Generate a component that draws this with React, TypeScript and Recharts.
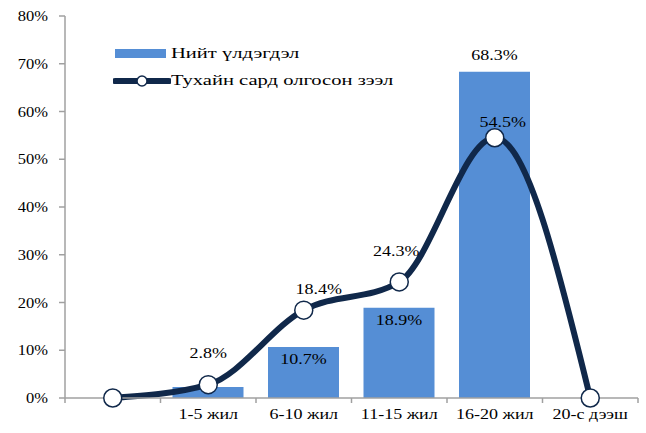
import React from 'react';
import {ComposedChart, Bar, Line, XAxis, YAxis, LabelList} from 'recharts';

const categories = ['', '1-5 жил', '6-10 жил', '11-15 жил', '16-20 жил', '20-с дээш'];
const balanceValues = [0, 2.3, 10.7, 18.9, 68.3, 0];
const balanceLabels = ['', '', '10.7%', '18.9%', '68.3%', ''];
const loanValues = [0, 2.8, 18.4, 24.3, 54.5, 0];
const loanLabels = ['', '2.8%', '18.4%', '24.3%', '54.5%', ''];
const yTicks = [0, 10, 20, 30, 40, 50, 60, 70, 80];

const BAR_COLOR = '#558ed5';
const LINE_COLOR = '#10284a';
const AXIS_COLOR = '#a0a0a0';
const FONT = '"Liberation Serif", "Times New Roman", serif';
// the source image is wider than tall, so its text looks stretched sideways
const STRETCH = 1.2;
const AXIS_STRETCH = 1.1;
const LEGEND_STRETCH = 1.37;

// label nudges so the text sits where the original put it
const lineLabelNudge: { [key: string]: { dx: number; dy: number } } = {
    '2.8%': {dx: 0, dy: -27},
    '18.4%': {dx: 15, dy: -16},
    '24.3%': {dx: -3, dy: -26},
    '54.5%': {dx: 8, dy: -11},
};

const data = categories.map((name, i) => ({
    name,
    balance: balanceValues[i],
    balanceLabel: balanceLabels[i],
    loan: loanValues[i],
    loanLabel: loanLabels[i],
}));

const WideText = ({x, y, anchor = 'middle', stretch = STRETCH, children}: any) => (
    <text transform={`translate(${x},${y}) scale(${stretch},1)`} textAnchor={anchor}
          fontSize={15} fontFamily={FONT} fill="#000">
        {children}
    </text>
);

const CategoryTick = (props: any) => {
    const {x, y, payload, index, visibleTicksCount} = props;
    const half = payload.offset || 47.75;
    return (
        <g>
            <line x1={x - half} y1={y} x2={x - half} y2={y + 5} stroke={AXIS_COLOR} strokeWidth={1.5}/>
            {index === visibleTicksCount - 1 && (
                <line x1={x + half} y1={y} x2={x + half} y2={y + 5} stroke={AXIS_COLOR} strokeWidth={1.5}/>
            )}
            <WideText x={x} y={y + 21}>{payload.value}</WideText>
        </g>
    );
};

const PercentTick = (props: any) => {
    const {x, y, payload} = props;
    return <WideText x={x} y={y + 5} anchor="end" stretch={AXIS_STRETCH}>{`${payload.value}%`}</WideText>;
};

const LineLabel = (props: any) => {
    const {x, y, value} = props;
    if (!value) return null;
    const n = lineLabelNudge[value] || {dx: 0, dy: -12};
    return <WideText x={x + n.dx} y={y + n.dy}>{value}</WideText>;
};

const BarLabel = (props: any) => {
    const {x, y, width, value} = props;
    if (!value) return null;
    const inside = balanceValues[balanceLabels.indexOf(value)] < 30;
    return <WideText x={x + width / 2} y={inside ? y + 17 : y - 12}>{value}</WideText>;
};

const legendText = {
    display: 'inline-block',
    whiteSpace: 'nowrap' as const,
    transform: `scaleX(${LEGEND_STRETCH})`,
    transformOrigin: 'left',
};

const LegendBox = () => (
    <div style={{
        position: 'absolute', left: 113, top: 40, fontFamily: FONT, fontSize: 15,
        color: '#000', lineHeight: '27px'
    }}>
        <div style={{display: 'flex', alignItems: 'center', height: 27}}>
            <svg width={58} height={14}>
                <rect x={2} y={2} width={51} height={9} fill={BAR_COLOR}/>
            </svg>
            <span style={legendText}>Нийт үлдэгдэл</span>
        </div>
        <div style={{display: 'flex', alignItems: 'center', height: 27}}>
            <svg width={58} height={20}>
                <line x1={2} y1={10} x2={56} y2={10} stroke={LINE_COLOR} strokeWidth={6} strokeLinecap="round"/>
                <circle cx={29} cy={10} r={5} fill="#fff" stroke={LINE_COLOR} strokeWidth={1.5}/>
            </svg>
            <span style={legendText}>Тухайн сард олгосон зээл</span>
        </div>
    </div>
);

export default function App() {
    return (
        <div style={{position: 'absolute', left: 0, top: 0, width: 646, height: 433, background: '#fff'}}>
            <ComposedChart
                width={646}
                height={433}
                data={data}
                margin={{top: 16, right: 8, left: 0, bottom: 0}}
            >
                <XAxis
                    dataKey="name"
                    stroke={AXIS_COLOR}
                    strokeWidth={1.5}
                    tickLine={false}
                    tickSize={0}
                    tickMargin={0}
                    interval={0}
                    tick={<CategoryTick/>}
                    height={35}
                />
                <YAxis
                    domain={[0, 80]}
                    ticks={yTicks}
                    width={65}
                    stroke={AXIS_COLOR}
                    strokeWidth={1.5}
                    tickSize={6}
                    tickMargin={11}
                    tick={<PercentTick/>}
                />
                <Bar dataKey="balance" fill={BAR_COLOR} barSize={71} isAnimationActive={false}>
                    <LabelList dataKey="balanceLabel" content={<BarLabel/>}/>
                </Bar>
                <Line
                    type="monotone"
                    dataKey="loan"
                    stroke={LINE_COLOR}
                    strokeWidth={6}
                    dot={{r: 9, fill: '#fff', stroke: LINE_COLOR, strokeWidth: 1.5}}
                    activeDot={false}
                    isAnimationActive={false}
                >
                    <LabelList dataKey="loanLabel" content={<LineLabel/>}/>
                </Line>
            </ComposedChart>
            <LegendBox/>
        </div>
    );
}
